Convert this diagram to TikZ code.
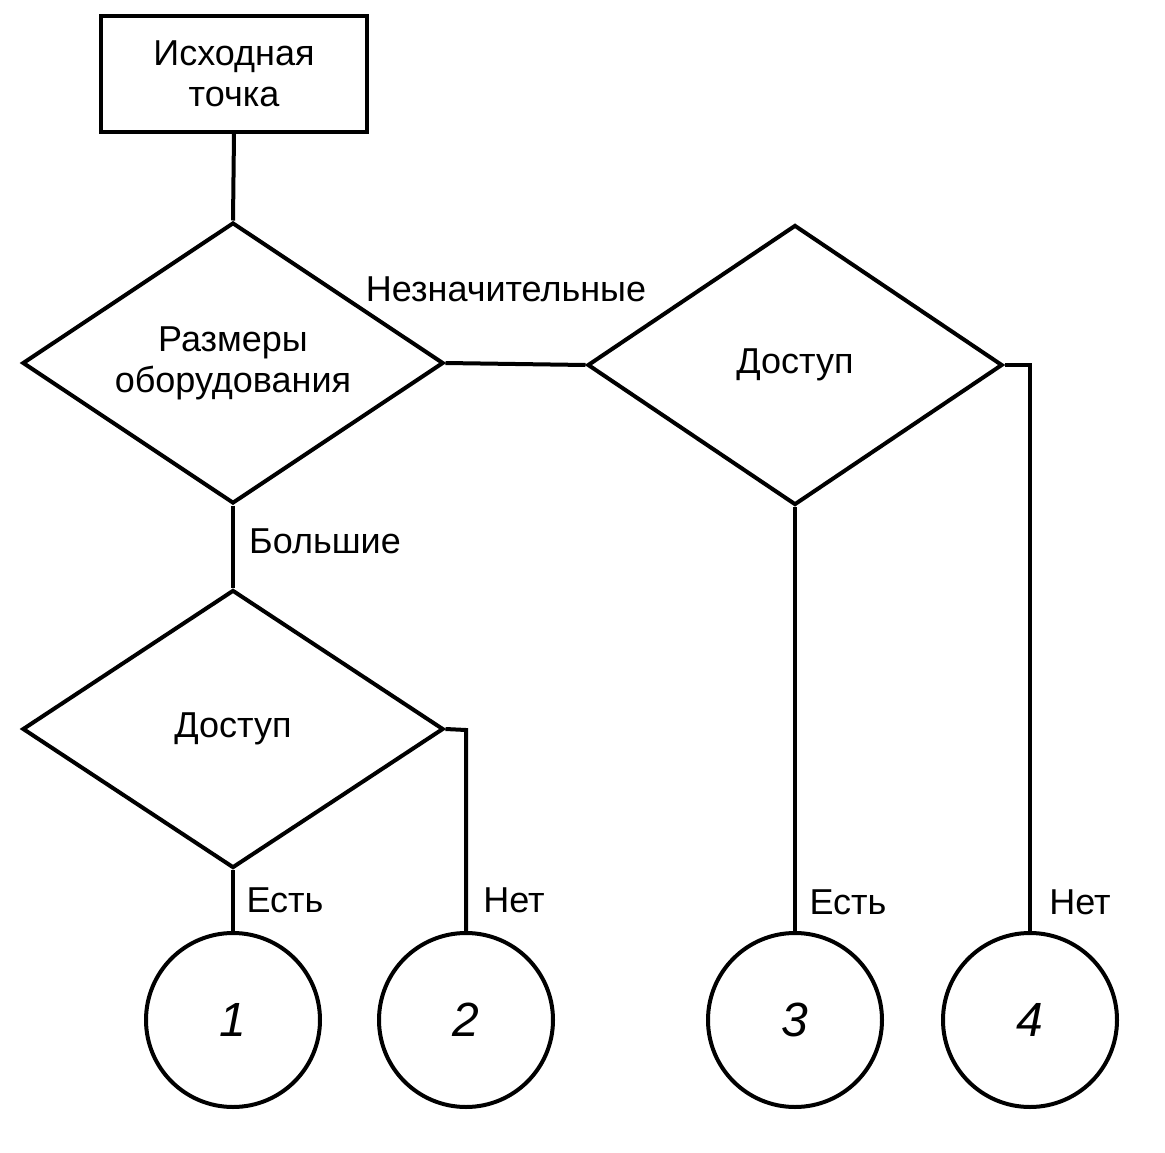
\documentclass[tikz,border=0pt]{standalone}
\usepackage{fontspec}
\setmainfont{Liberation Sans}
\usetikzlibrary{shapes.geometric}
\begin{document}
\begin{tikzpicture}[x=1pt,y=-1pt,
  every node/.style={font=\fontsize{36}{41}\selectfont},
  ln/.style={line width=4pt},
  dia/.style={diamond,draw,line width=4pt,inner sep=0pt},
  dtext/.style={inner sep=0pt,align=center},
  circ/.style={circle,draw,line width=4pt,minimum size=174pt,inner sep=0pt,font=\fontsize{48}{50}\selectfont\itshape},
  lbl/.style={inner sep=0pt}]
\useasboundingbox (0,0) rectangle (1165,1153);
\node[draw,line width=4pt,minimum width=266pt,minimum height=116pt,align=center,inner sep=0pt] (start) at (234,74) {Исходная\\точка};
\node[dia,minimum width=421pt,minimum height=281pt] (d1) at (233,363) {};
\node[dia,minimum width=415pt,minimum height=280pt] (d2) at (795,365) {};
\node[dia,minimum width=421pt,minimum height=278pt] (d3) at (233,729) {};
\node[dtext] (t1) at (d1.center) {Размеры\\оборудования};
\node[dtext] (t2) at (d2.center) {Доступ};
\node[dtext] (t3) at (d3.center) {Доступ};
\node[circ] (c1) at (233,1020) {1};
\node[circ] (c2) at (466,1020) {2};
\node[circ] (c3) at (795,1020) {3};
\node[circ] (c4) at (1030,1020) {4};
\coordinate (r2) at (1030,365);
\coordinate (r3) at (466,730);
\draw[ln] (start.south) -- (d1.north);
\draw[ln] (d1.east) -- (d2.west);
\draw[ln] (d1.south) -- (d3.north);
\draw[ln] (d3.south) -- (c1.north);
\draw[ln] (d3.east) -- (r3) -- (c2.north);
\draw[ln] (d2.south) -- (c3.north);
\draw[ln] (d2.east) -- (r2) -- (c4.north);
\node[lbl] (l1) at (506,289) {Незначительные};
\node[lbl] (l2) at (325,541) {Большие};
\node[lbl] (l3) at (285,900) {Есть};
\node[lbl] (l4) at (514,900) {Нет};
\node[lbl] (l5) at (848,902) {Есть};
\node[lbl] (l6) at (1080,902) {Нет};
\end{tikzpicture}
\end{document}
